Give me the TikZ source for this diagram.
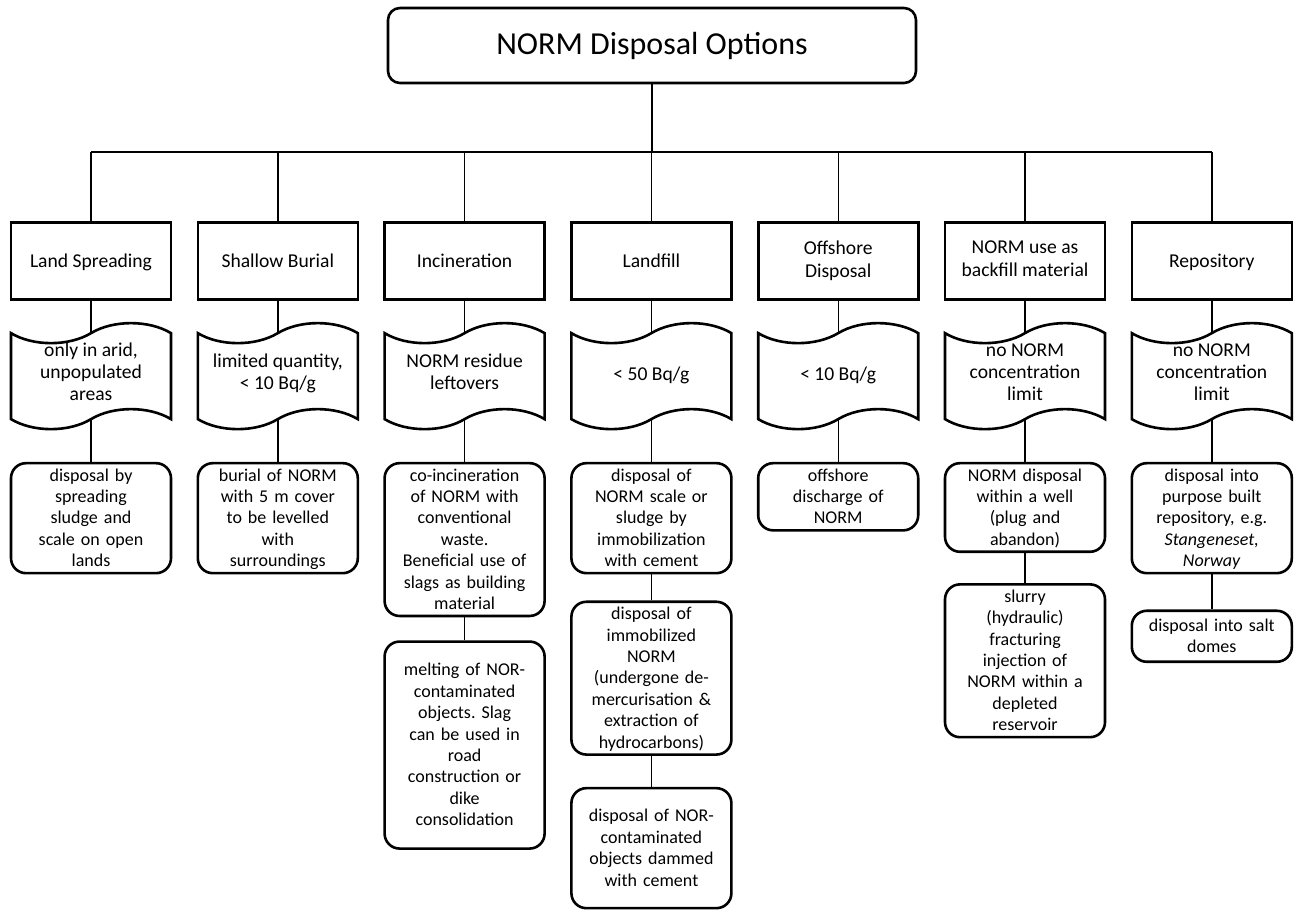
\documentclass[tikz,border=0pt]{standalone}
\usepackage{fontspec}
\setmainfont{Carlito}
\usetikzlibrary{positioning,shapes.symbols}
\frenchspacing

\begin{document}
\begin{tikzpicture}[
  x=0.5pt, y=0.5pt,
  font=\fontsize{9}{10.7}\selectfont,
  title/.style={draw, line width=1.3pt, rounded corners=6pt, minimum width=264pt, minimum height=37.5pt, font=\fontsize{16}{19}\selectfont},
  head/.style={draw, line width=1.3pt, minimum width=80pt, minimum height=38.5pt, align=center, inner sep=2pt,
    font=\fontsize{9.8}{11.6}\selectfont,
    execute at begin node=\rule{0pt}{8.5pt}, execute at end node=\rule[-2.1pt]{0pt}{2.1pt}},
  limit/.style={tape, draw, line width=1.3pt, minimum width=80pt, minimum height=53pt, tape bend height=10pt,
    align=center, inner xsep=2pt, inner ysep=0pt, font=\fontsize{9.8}{11}\selectfont,
    execute at begin node=\rule{0pt}{8pt}, execute at end node=\rule[-4pt]{0pt}{4pt}},
  item/.style={draw, line width=1.3pt, rounded corners=7.5pt, text width=74pt, inner xsep=3pt, inner ysep=1pt, align=center,
    execute at begin node=\rule{0pt}{8pt}, execute at end node=\rule[-2.2pt]{0pt}{2.2pt}},
  link/.style={line width=0.7pt},
  node distance=12.1pt]
  \useasboundingbox (0,0) rectangle (1295,-915);

  \node[title] (opts) at (652,-45.5) {NORM Disposal Options};
  \coordinate (bus) at (652,-152);

  % disposal routes
  \node[head] (land) at (91,-261) {Land Spreading};
  \node[head, right=of land] (burial) {Shallow Burial};
  \node[head, right=of burial] (incin) {Incineration};
  \node[head, right=of incin] (landfill) {Landfill};
  \node[head, right=of landfill] (offshore) {Offshore\\Disposal};
  \node[head, right=of offshore] (backfill) {NORM use as\\backfill material};
  \node[head, right=of backfill] (repo) {Repository};

  % activity limits
  \node[limit, below=15.5pt of land] (landL) {only in arid,\\unpopulated\\areas};
  \node[limit, below=15.5pt of burial] (burialL) {limited quantity,\\< 10 Bq/g};
  \node[limit, below=15.5pt of incin] (incinL) {NORM residue\\leftovers};
  \node[limit, below=15.5pt of landfill] (landfillL) {< 50 Bq/g};
  \node[limit, below=15.5pt of offshore] (offshoreL) {< 10 Bq/g};
  \node[limit, below=15.5pt of backfill] (backfillL) {no NORM\\concentration\\limit};
  \node[limit, below=15.5pt of repo] (repoL) {no NORM\\concentration\\limit};

  % practices
  \node[item, below=20.7pt of landL] (landA) {disposal by\\spreading\\sludge and\\scale on open\\lands};
  \node[item, below=20.7pt of burialL] (burialA) {burial of NORM\\with 5 m cover\\to be levelled\\with\\surroundings};
  \node[item, below=20.7pt of incinL] (incinA) {co-incineration\\of NORM with\\conventional\\waste.\\Beneficial use of\\slags as building\\material};
  \node[item, below=11.5pt of incinA, minimum height=103.5pt] (incinB) {melting of NOR-\\contaminated\\objects. Slag\\can be used in\\road\\construction or\\dike\\consolidation};
  \node[item, below=20.7pt of landfillL] (landfillA) {disposal of\\NORM scale or\\sludge by\\immobilization\\with cement};
  \node[item, below=13pt of landfillA] (landfillB) {disposal of\\immobilized\\NORM\\(undergone de-\\mercurisation \&\\extraction of\\hydrocarbons)};
  \node[item, below=15.5pt of landfillB, minimum height=60pt] (landfillC) {disposal of NOR-\\contaminated\\objects dammed\\with cement};
  \node[item, below=20.7pt of offshoreL] (offshoreA) {offshore\\discharge of\\NORM};
  \node[item, below=20.7pt of backfillL] (backfillA) {NORM disposal\\within a well\\(plug and\\abandon)};
  \node[item, below=15pt of backfillA] (backfillB) {slurry\\(hydraulic)\\fracturing\\injection of\\NORM within a\\depleted\\reservoir};
  \node[item, below=20.7pt of repoL] (repoA) {disposal into\\purpose built\\repository, e.g.\\\textit{Stangeneset,}\\\textit{Norway}};
  \node[item, below=17.5pt of repoA, minimum height=25.5pt] (repoB) {disposal into salt\\domes};

  \draw[link, line width=1pt] (opts.south) -- (bus);
  \draw[link] (land.north |- bus) -- (repo.north |- bus);
  \foreach \n in {land,burial,incin,landfill,offshore,backfill,repo} {
    \draw[link] (\n.north |- bus) -- (\n.north);
    \draw[link] (\n.south) -- (\n L.north);
    \draw[link] (\n L.south) -- (\n A.north);
  }
  \draw[link] (incinA) -- (incinB);
  \draw[link] (landfillA) -- (landfillB);
  \draw[link] (landfillB) -- (landfillC);
  \draw[link] (backfillA) -- (backfillB);
  \draw[link] (repoA) -- (repoB);
\end{tikzpicture}
\end{document}
